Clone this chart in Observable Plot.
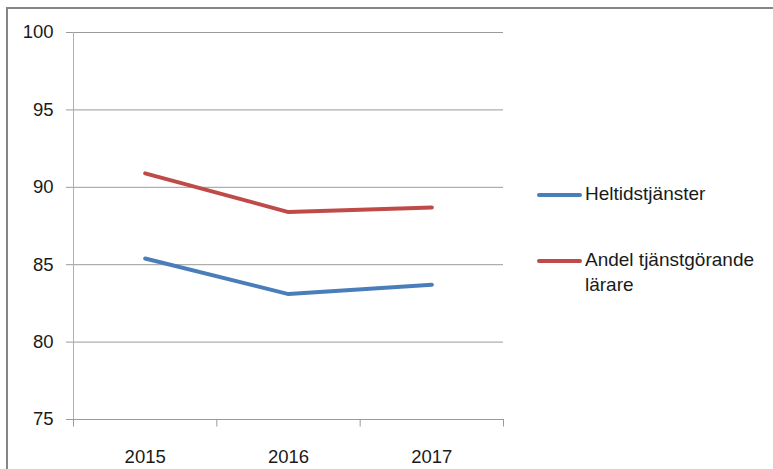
<!DOCTYPE html>
<html>
<head>
<meta charset="utf-8">
<script src="https://cdn.jsdelivr.net/npm/d3@7"></script>
<script src="https://cdn.jsdelivr.net/npm/@observablehq/plot@0.6"></script>
<style>
  body { margin: 0; background: #fff; }
  #wrap { position: relative; width: 773px; height: 469px; overflow: hidden; font-family: "Liberation Sans", Arial, sans-serif; color: #1a1a1a; }
  #frame { position: absolute; left: 6px; top: 7px; width: 800px; height: 500px; border-top: 2px solid #868686; border-left: 2px solid #868686; }
  #chart { position: absolute; left: 0; top: 0; }
  .lg-item { position: absolute; left: 537px; }
  .lg-swatch { position: absolute; left: 0; width: 45px; height: 4px; border-radius: 2px; }
  .lg-text { position: absolute; left: 48px; width: 185px; font-size: 19px; line-height: 25.7px; }
</style>
</head>
<body>
<div id="wrap">
  <div id="frame"></div>
  <div id="chart"></div>
  <div id="legend"></div>
</div>
<script>
const years = ["2015", "2016", "2017"];
const heltid = [85.4, 83.1, 83.7];
const andel = [90.9, 88.4, 88.7];
const seriesNames = ["Heltidstjänster", "Andel tjänstgörande lärare"];
const seriesColors = ["#4a7ebb", "#be4b48"];
const yTicks = [75, 80, 85, 90, 95, 100];

const rows = [];
[heltid, andel].forEach((vals, s) => {
  vals.forEach((v, i) => rows.push({ idx: i + 0.5, year: years[i], value: v, series: seriesNames[s] }));
});

const chart = Plot.plot({
  width: 773,
  height: 469,
  marginLeft: 73,
  marginRight: 270,
  marginTop: 32,
  marginBottom: 50,
  style: { fontFamily: '"Liberation Sans", Arial, sans-serif', background: "transparent", color: "#1a1a1a" },
  x: { domain: [0, years.length] },
  y: { domain: [75, 100] },
  color: { domain: seriesNames, range: seriesColors },
  marks: [
    Plot.ruleY(yTicks.slice(1), { stroke: "#9a9a9a" }),
    Plot.ruleX([0], { stroke: "#b0b0b0" }),
    Plot.ruleY([75], { stroke: "#9a9a9a" }),
    Plot.axisY({ ticks: yTicks, tickSize: 7, tickPadding: 13, fontSize: 18.5, stroke: "#9a9a9a", fill: "#1a1a1a", label: null }),
    Plot.axisX({ ticks: d3.range(years.length + 1), tickSize: 7.5, tickFormat: () => "", stroke: "#9a9a9a", label: null }),
    Plot.axisX({ ticks: years.map((d, i) => i + 0.5), tickSize: 0, tickPadding: 30, fontSize: 18.5, fill: "#1a1a1a",
                 tickFormat: d => years[Math.floor(d)], label: null }),
    Plot.line(rows, { x: "idx", y: "value", z: "series", stroke: "series", strokeWidth: 4, strokeLinejoin: "round", strokeLinecap: "round" })
  ]
});
document.getElementById("chart").appendChild(chart);

const legendTops = [181, 246.5];
const swatchOffsets = [12.2, 12.5];
const legend = d3.select("#legend");
seriesNames.forEach((name, i) => {
  const item = legend.append("div").attr("class", "lg-item").style("top", legendTops[i] + "px");
  item.append("div").attr("class", "lg-swatch").style("top", swatchOffsets[i] + "px").style("background", seriesColors[i]);
  item.append("div").attr("class", "lg-text").text(name);
});
</script>
</body>
</html>
